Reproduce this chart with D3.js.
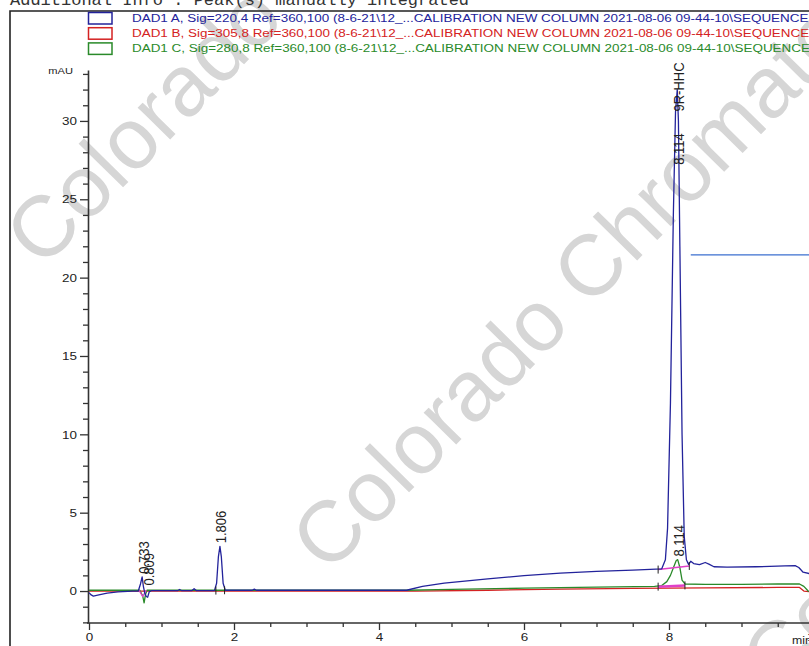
<!DOCTYPE html>
<html><head><meta charset="utf-8">
<script src="https://cdn.jsdelivr.net/npm/d3@7/dist/d3.min.js"></script>
<style>html,body{margin:0;padding:0;background:#fff;overflow:hidden}</style>
</head><body>
<svg id="c" width="809" height="646"></svg>
<script>
// ---------- data ----------
const headerText = "Additional Info : Peak(s) manually integrated";
const legendLabels = [
  "DAD1 A, Sig=220,4 Ref=360,100 (8-6-21\\12_...CALIBRATION NEW COLUMN 2021-08-06 09-44-10\\SEQUENCE",
  "DAD1 B, Sig=305,8 Ref=360,100 (8-6-21\\12_...CALIBRATION NEW COLUMN 2021-08-06 09-44-10\\SEQUENCE",
  "DAD1 C, Sig=280,8 Ref=360,100 (8-6-21\\12_...CALIBRATION NEW COLUMN 2021-08-06 09-44-10\\SEQUENCE"
];
const watermarkText = "Colorado Chromatography";
const xMajorTicks = [0, 2, 4, 6, 8, 10];
const xMinorTicks = [0.5,1,1.5,2.5,3,3.5,4.5,5,5.5,6.5,7,7.5,8.5,9,9.5];
const yMajorTicks = [0, 5, 10, 15, 20, 25, 30];
const yMinorTicks = [-2,-1,1,2,3,4,6,7,8,9,11,12,13,14,16,17,18,19,21,22,23,24,26,27,28,29,31,32,33];
const xUnit = "min", yUnit = "mAU";

// DAD1 A (220 nm) [time min, mAU]
const seriesA = [
  [0,-0.1],[0.03,-0.25],[0.06,-0.32],[0.12,-0.26],[0.25,-0.13],[0.4,-0.05],[0.6,0.0],[0.68,0.0],
  [0.71,0.45],[0.733,0.9],[0.75,0.3],[0.77,-0.15],[0.79,-0.35],[0.809,-0.4],[0.83,-0.05],[0.86,0.02],
  [1.22,0.02],[1.25,0.1],[1.28,0.02],[1.42,0.03],[1.45,0.15],[1.48,0.03],[1.73,0.03],[1.76,0.5],
  [1.785,2.2],[1.806,2.85],[1.825,2.2],[1.85,0.5],[1.88,0.05],[2.25,0.05],[2.28,0.12],[2.31,0.05],
  [4.38,0.05],[4.6,0.3],[4.9,0.5],[5.5,0.78],[6.0,0.98],[6.5,1.14],[7.0,1.26],[7.5,1.34],[7.9,1.42],
  [7.95,2.0],[7.98,4.0],[8.02,12],[8.06,24],[8.09,30.6],[8.114,32.0],[8.13,30],[8.15,22],[8.18,10],
  [8.21,3.5],[8.24,2.0],[8.27,1.7],[8.3,1.9],[8.34,1.75],[8.42,1.68],[8.5,1.82],[8.55,1.72],[8.62,1.55],
  [8.8,1.52],[9.2,1.55],[9.6,1.6],[9.74,1.62],[9.79,1.5],[9.85,1.2],[9.95,1.1]
];
// DAD1 B (305 nm)
const seriesB = [
  [0,0.0],[4.5,0.0],[5.5,0.05],[6.5,0.12],[7.5,0.17],[8.5,0.2],[9.5,0.23],[9.8,0.23],[9.86,0.0],[9.95,-0.05]
];
// DAD1 C (280 nm)
const seriesC = [
  [0,0.05],[0.7,0.05],[0.74,-0.3],[0.76,-0.75],[0.78,-0.2],[0.8,0.05],[4.4,0.05],[5.0,0.1],[6.0,0.18],
  [7.0,0.25],[7.8,0.3],[7.9,0.35],[7.97,0.6],[8.02,1.0],[8.07,1.6],[8.1,1.95],[8.12,2.0],[8.15,1.5],
  [8.18,0.7],[8.22,0.45],[8.5,0.42],[9.0,0.42],[9.5,0.45],[9.8,0.45],[9.86,0.3],[9.92,0.0],[9.95,-0.05]
];
// integration baselines
const baselineA = [[7.85,1.37],[8.28,1.6]];
const baselineC = [[7.85,0.28],[8.22,0.36]];
const baselineEarly = [[0.69,0.05],[0.74,-0.35],[0.79,0.05]];
const markerTicks = [[1.75,0.03],[1.87,0.05],[7.85,1.37],[8.28,1.6],[7.85,0.28],[8.22,0.36]];
const annotationLine = [[8.3,21.45],[10,21.45]];
// peak labels: [text, retention time, label level mAU]
const labelsA = [["0.733",0.733,1.1],["0.809",0.809,0.35],["1.806",1.806,3.05],["8.114",8.114,27.2],["9R-HHC",8.114,30.6]];
const labelsC = [["8.114",8.114,2.2]];

// ---------- drawing ----------
const SX = 1.17;
const svg = d3.select("#c");
const x = d3.scaleLinear().domain([0, 10]).range([89, 814]);
const y = d3.scaleLinear().domain([-2.04, 33.25]).range([623, 70]);
const colA = "#23239b", colB = "#d42222", colC = "#2a8a2a", axisCol = "#333";
const font = "Liberation Sans, Arial, sans-serif";

// watermark
const wm = svg.append("g").attr("fill", "#d6d6d6").attr("font-family", font).attr("font-size", 86);
[[42,270],[328,575],[778,695]].forEach(p => {
  wm.append("text").attr("transform", `translate(${p[0]},${p[1]}) rotate(-45.5)`).text(watermarkText);
});

// header
svg.append("text").attr("transform", "translate(10,5)")
  .attr("font-family", "Liberation Mono, Courier New, monospace").attr("font-size", 17)
  .attr("fill", "#333").text(headerText);
// frame
svg.append("path").attr("d", "M10,646V11H809").attr("fill", "none").attr("stroke", "#222").attr("stroke-width", 1.6);

// legend
const legCols = [colA, colB, colC];
legendLabels.forEach((t, i) => {
  const cy = 18 + i * 15.2;
  svg.append("rect").attr("x", 88.5).attr("y", cy - 5.5).attr("width", 23.5).attr("height", 11.5)
    .attr("fill", "none").attr("stroke", legCols[i]).attr("stroke-width", 1.5);
  svg.append("text").attr("transform", `translate(132,${cy + 4}) scale(${SX},1)`)
    .attr("font-family", font).attr("font-size", 11.5).attr("fill", legCols[i]).text(t);
});

// axes
function styleAxis(g) {
  g.select(".domain").attr("stroke", axisCol).attr("stroke-width", 1.6);
  g.selectAll(".tick line").attr("stroke", axisCol).attr("stroke-width", 1.3);
  g.selectAll("text").attr("font-family", font).attr("font-size", 11.5).attr("fill", "#222");
}
const gy = svg.append("g").attr("transform", "translate(88,0)")
  .call(d3.axisLeft(y).tickValues(yMajorTicks).tickSize(8).tickSizeOuter(0).tickPadding(3).tickFormat(d3.format("d")));
styleAxis(gy);
gy.selectAll("text").attr("transform", `scale(${SX},1)`).attr("x", -11 / SX);
svg.append("g").attr("transform", "translate(88,0)")
  .call(d3.axisLeft(y).tickValues(yMinorTicks).tickSize(5).tickFormat(""))
  .call(g => { g.select(".domain").remove(); g.selectAll("line").attr("stroke", axisCol).attr("stroke-width", 1.3); });

const gx = svg.append("g").attr("transform", "translate(0,623)")
  .call(d3.axisBottom(x).tickValues(xMajorTicks).tickSize(7).tickSizeOuter(0).tickPadding(3).tickFormat(d3.format("d")));
styleAxis(gx);
gx.select(".domain").attr("d", "M87,0H809");
gx.selectAll("text").attr("transform", `scale(${SX},1)`);
svg.append("g").attr("transform", "translate(0,623)")
  .call(d3.axisBottom(x).tickValues(xMinorTicks).tickSize(4).tickFormat(""))
  .call(g => { g.select(".domain").remove(); g.selectAll("line").attr("stroke", axisCol).attr("stroke-width", 1.3); });

svg.append("text").attr("transform", `translate(73,74) scale(${SX},1)`).attr("text-anchor", "end")
  .attr("font-family", font).attr("font-size", 9.5).attr("fill", "#222").text(yUnit);
svg.append("text").attr("transform", `translate(792,644) scale(${SX},1)`)
  .attr("font-family", font).attr("font-size", 10.5).attr("fill", "#222").text(xUnit);

// lines
const line = d3.line().x(d => x(d[0])).y(d => y(d[1]));
const plot = svg.append("g").attr("fill", "none").attr("stroke-linejoin", "round");
plot.append("path").datum(seriesB).attr("d", line).attr("stroke", colB).attr("stroke-width", 1.3);
plot.append("path").datum(seriesC).attr("d", line).attr("stroke", colC).attr("stroke-width", 1.3);
plot.append("path").datum(baselineC).attr("d", line).attr("stroke", "#e040c8").attr("stroke-width", 2.5);
plot.append("path").datum(baselineA).attr("d", line).attr("stroke", "#e040c8").attr("stroke-width", 1.5);
plot.append("path").datum(baselineEarly).attr("d", line).attr("stroke", "#e040c8").attr("stroke-width", 1.3);
plot.append("path").datum(seriesA).attr("d", line).attr("stroke", colA).attr("stroke-width", 1.3);
plot.append("path").datum(annotationLine).attr("d", line).attr("stroke", "#3b6fcf").attr("stroke-width", 1.2);
markerTicks.forEach(m => {
  plot.append("line").attr("x1", x(m[0])).attr("x2", x(m[0])).attr("y1", y(m[1]) - 4).attr("y2", y(m[1]) + 4)
    .attr("stroke", "#222").attr("stroke-width", 1);
});

// peak labels
function peakLabel(l) {
  svg.append("text").attr("transform", `translate(${x(l[1]) + 6.5},${y(l[2])}) scale(${SX},1) rotate(-90)`)
    .attr("font-family", font).attr("font-size", 13).attr("fill", "#222").text(l[0]);
}
labelsA.forEach(peakLabel);
labelsC.forEach(peakLabel);
</script>
</body></html>
